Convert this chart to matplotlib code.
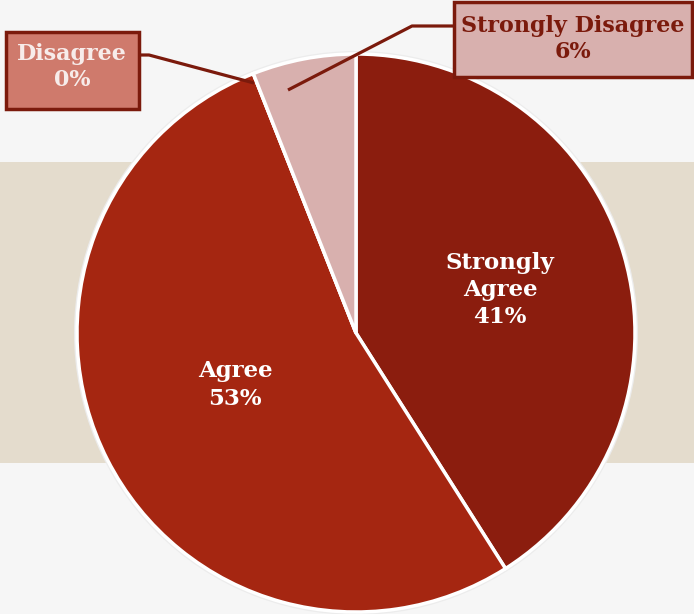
import matplotlib
matplotlib.use("Agg")
import matplotlib.pyplot as plt
from matplotlib.patches import Rectangle, Circle

W, H = 694, 614

labels = ["Strongly\nAgree", "Agree", "Disagree", "Strongly Disagree"]
values = [41, 53, 0, 6]
colors = ["#8B1D0E", "#A52611", "#CF7A6C", "#D8B0AE"]
DARK = "#7B1A0C"

plt.rcParams["font.family"] = ["DejaVu Serif"]

fig = plt.figure(figsize=(W / 100, H / 100), dpi=100, facecolor="#F6F6F6")
ax = fig.add_axes([0, 0, 1, 1])

def py(y):  # pixel row -> data y
    return H - y

# beige band behind the pie
ax.add_patch(Rectangle((0, py(463)), W, 301, facecolor="#E4DCCD", edgecolor="none", zorder=0))

cx, cy, r = 356, py(333), 279
ax.add_patch(Circle((cx, cy), r + 3, facecolor="#ECECEC", edgecolor="none", zorder=1))
ax.pie(values, colors=colors, startangle=90, counterclock=False,
       center=(cx, cy), radius=r, frame=True,
       wedgeprops=dict(edgecolor="white", linewidth=2.5, zorder=2))
ax.set_xlim(0, W)
ax.set_ylim(0, H)
ax.set_aspect("equal")
ax.axis("off")

# inside labels
ax.text(500, py(290), f"{labels[0]}\n{values[0]}%", ha="center", va="center",
        color="white", fontsize=16.5, fontweight="bold", linespacing=1.3, zorder=5)
ax.text(235, py(385), f"{labels[1]}\n{values[1]}%", ha="center", va="center",
        color="white", fontsize=16.5, fontweight="bold", linespacing=1.3, zorder=5)

# callout boxes
ax.plot([140, 149, 254], [py(55), py(55), py(83)], color=DARK, lw=2.3,
        solid_capstyle="butt", zorder=4)
ax.plot([453, 412, 288], [py(26), py(26), py(90)], color=DARK, lw=2.3,
        solid_capstyle="butt", zorder=4)

ax.add_patch(Rectangle((6, py(109)), 133, 77, facecolor=colors[2], edgecolor=DARK,
                       lw=2.5, zorder=5))
ax.text(72, py(67), f"{labels[2]}\n{values[2]}%", ha="center", va="center",
        color="#F7ECEA", fontsize=16, fontweight="bold", linespacing=1.25, zorder=6)

ax.add_patch(Rectangle((454, py(77)), 238, 75, facecolor=colors[3], edgecolor=DARK,
                       lw=2.5, zorder=5))
ax.text(573, py(39), f"{labels[3]}\n{values[3]}%", ha="center", va="center",
        color=DARK, fontsize=16, fontweight="bold", linespacing=1.25, zorder=6)

fig.savefig("out.png", dpi=100, facecolor=fig.get_facecolor())
